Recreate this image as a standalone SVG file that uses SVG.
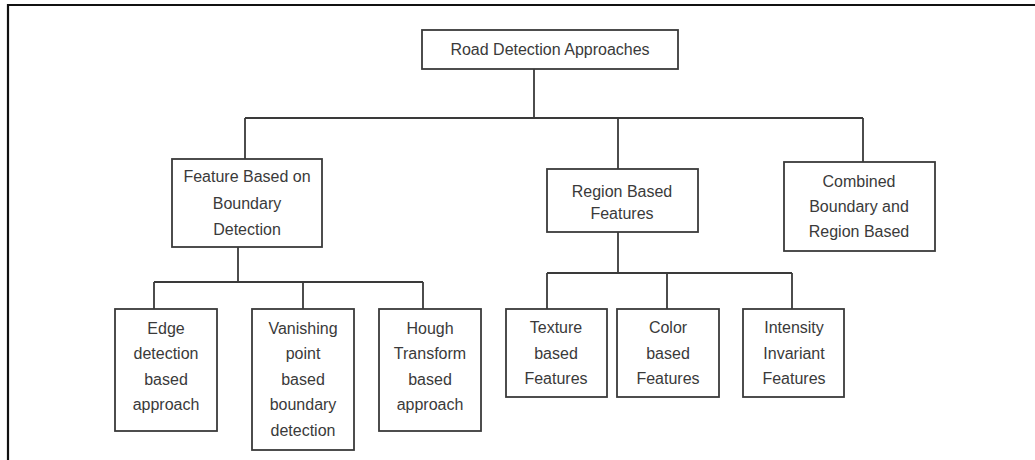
<svg xmlns="http://www.w3.org/2000/svg" width="1035" height="460" viewBox="0 0 1035 460">
<style>
.box{fill:#fff;stroke:#3a3a3a;stroke-width:1.8}
.t{font-family:"Liberation Sans",Arial,sans-serif;font-size:16px;fill:#3a3a3a;text-anchor:middle}
.c{fill:none;stroke:#3a3a3a;stroke-width:1.8}
</style>
<rect width="1035" height="460" fill="#fff"/>
<path d="M8 460 V5 H1035" fill="none" stroke="#111" stroke-width="2.2"/>
<g id="connectors">
<path class="c" d="M534 69 V118 M245 118 H863 M245 118 V159 M618 118 V169 M863 118 V162"/>
<path class="c" d="M238 247 V282 M154 282 H423 M154 282 V309 M303 282 V309 M423 282 V309"/>
<path class="c" d="M618 232 V273 M547 273 H792 M547 273 V309 M667 273 V309 M792 273 V309"/>
</g>
<g id="root"><rect class="box" x="422" y="30" width="256" height="39"/><text class="t" x="550" y="55">Road Detection Approaches</text></g>
<g id="feature"><rect class="box" x="172" y="159" width="150" height="88"/><text class="t" x="247" y="182">Feature Based on</text><text class="t" x="247" y="209">Boundary</text><text class="t" x="247" y="235">Detection</text></g>
<g id="region"><rect class="box" x="547" y="169" width="151" height="63"/><text class="t" x="622" y="197">Region Based</text><text class="t" x="622" y="219">Features</text></g>
<g id="combined"><rect class="box" x="784" y="162" width="151" height="89"/><text class="t" x="859" y="187">Combined</text><text class="t" x="859" y="212">Boundary and</text><text class="t" x="859" y="237">Region Based</text></g>
<g id="edge"><rect class="box" x="115" y="309" width="102" height="122"/><text class="t" x="166" y="334">Edge</text><text class="t" x="166" y="359">detection</text><text class="t" x="166" y="385">based</text><text class="t" x="166" y="410">approach</text></g>
<g id="vanishing"><rect class="box" x="252" y="309" width="102" height="141"/><text class="t" x="303" y="334">Vanishing</text><text class="t" x="303" y="359">point</text><text class="t" x="303" y="385">based</text><text class="t" x="303" y="410">boundary</text><text class="t" x="303" y="436">detection</text></g>
<g id="hough"><rect class="box" x="379" y="309" width="102" height="122"/><text class="t" x="430" y="334">Hough</text><text class="t" x="430" y="359">Transform</text><text class="t" x="430" y="385">based</text><text class="t" x="430" y="410">approach</text></g>
<g id="texture"><rect class="box" x="506" y="309" width="101" height="88"/><text class="t" x="556" y="333">Texture</text><text class="t" x="556" y="359">based</text><text class="t" x="556" y="384">Features</text></g>
<g id="color"><rect class="box" x="617" y="309" width="102" height="88"/><text class="t" x="668" y="333">Color</text><text class="t" x="668" y="359">based</text><text class="t" x="668" y="384">Features</text></g>
<g id="intensity"><rect class="box" x="743" y="309" width="101" height="88"/><text class="t" x="794" y="333">Intensity</text><text class="t" x="794" y="359">Invariant</text><text class="t" x="794" y="384">Features</text></g>
</svg>
